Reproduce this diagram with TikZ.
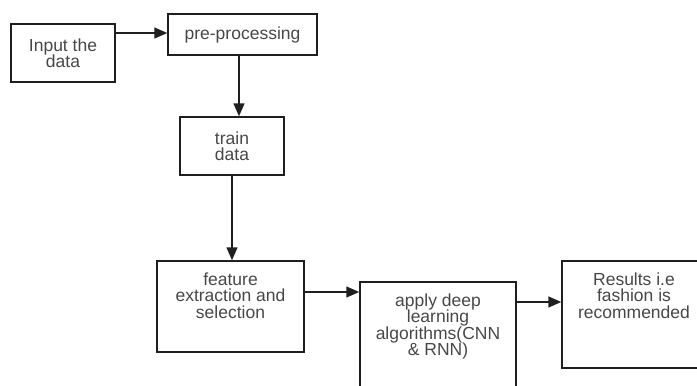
\documentclass[tikz,border=0pt]{standalone}
\usepackage{fontspec}
\setmainfont{Liberation Sans}
\usetikzlibrary{positioning,arrows.meta}
\definecolor{linecol}{gray}{0.12}
\definecolor{textcol}{gray}{0.28}
\tikzset{
  blockbox/.style={draw=linecol, line width=1.5pt, inner sep=0pt, align=center,
    text=textcol, font=\fontsize{17.5}{16.5}\selectfont},
  blocktext/.style={inner sep=0pt, align=center, text=textcol,
    font=\fontsize{17.5}{16.5}\selectfont},
  flow/.style={draw=linecol, line width=1.5pt, -{Triangle[length=13pt,width=11pt]}}
}
\begin{document}
\begin{tikzpicture}[x=1pt,y=-1pt]
\useasboundingbox (0,0) rectangle (697,386);
\clip (0,0) rectangle (697,386);
\node[blockbox, minimum width=104pt, minimum height=58pt] (input) at (63,53) {Input the\\data};
\node[blockbox, minimum width=149pt, minimum height=41pt] (preproc) at (242.5,34.5) {pre-processing};
\node[blockbox, minimum width=104pt, minimum height=58pt] (train) at (232,146) {train\\data};
\node[blockbox, minimum width=147pt, minimum height=91pt] (feature) at (230.5,306.5) {};
\node[blockbox, minimum width=156pt, minimum height=118pt] (apply) at (438,341) {};
\node[blockbox, minimum width=144pt, minimum height=107pt] (results) at (634,314.5) {};
\node[blocktext, below=12pt of feature.north] (featuretext) {feature\\extraction and\\selection};
\node[blocktext, below=12pt of apply.north] (applytext) {apply deep\\learning\\algorithms(CNN\\\& RNN)};
\node[blocktext, below=12pt of results.north] (resultstext) {Results i.e\\fashion is\\recommended};
\draw[flow] ([yshift=1.5pt]preproc.west -| input.east) -- ([yshift=1.5pt]preproc.west);
\draw[flow] ([xshift=-3.5pt]preproc.south) -- ([xshift=-3.5pt]preproc.south |- train.north);
\draw[flow] (train.south) -- (train.south |- feature.north);
\draw[flow] ([yshift=14.5pt]feature.east) -- ([yshift=14.5pt]feature.east -| apply.west);
\draw[flow] ([yshift=12.5pt]results.west -| apply.east) -- ([yshift=12.5pt]results.west);
\end{tikzpicture}
\end{document}
